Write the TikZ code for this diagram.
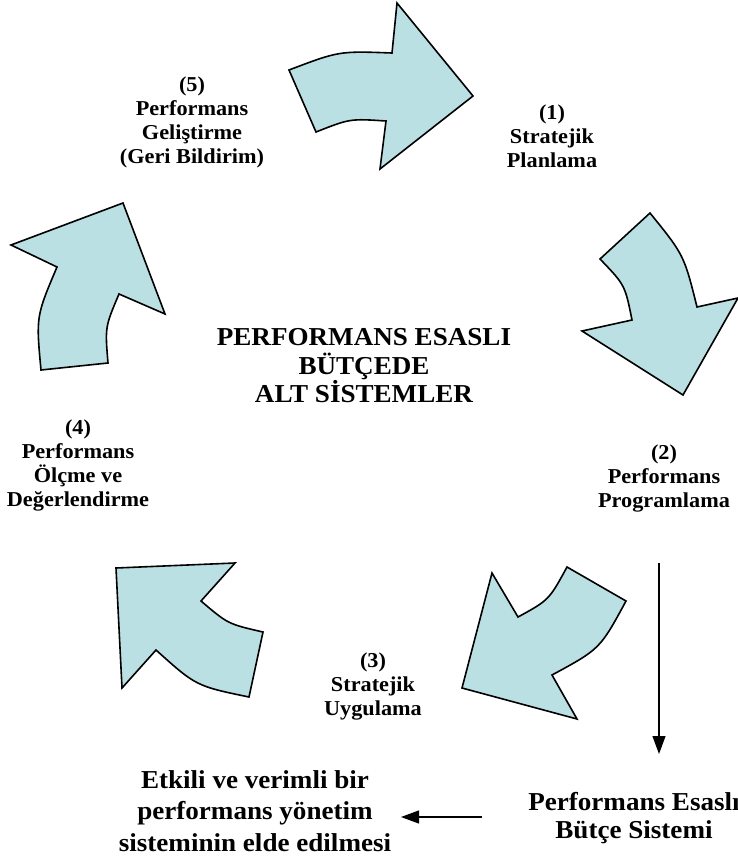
\documentclass[tikz,border=0pt]{standalone}
\usepackage{fontspec}
\setmainfont{Liberation Serif}[FakeStretch=1.05]
\usetikzlibrary{arrows.meta}
\definecolor{cycfill}{RGB}{187,224,227}
\begin{document}
\begin{tikzpicture}[x=1pt,y=-1pt,
  cyc/.style={fill=cycfill,draw=black,line width=1.6pt,line join=miter},
  lbl/.style={align=center,inner sep=0pt,font=\bfseries\fontsize{21.2}{24}\selectfont},
  big/.style={align=center,inner sep=0pt,font=\bfseries\fontsize{25.8}{28.5}\selectfont},
  conn/.style={line width=1.2pt,-{Triangle[length=18pt,width=13pt]}}]
\useasboundingbox (0,0) rectangle (738,862);

% curved block arrows of the cycle
\draw[cyc] (289,70) .. controls (339,51) .. (392,53) -- (397,3) -- (473,96)
  -- (380,169) -- (386,121) .. controls (350,118.6) .. (316,132) -- cycle;
\draw[cyc] (650,213) .. controls (684,255) .. (697,307) -- (738,298) -- (683,395)
  -- (582,331) -- (632,320) .. controls (625,285) .. (600,259) -- cycle;
\draw[cyc] (567,567) -- (626,601) .. controls (600,649) .. (552,675) -- (577,719)
  -- (462,688) -- (492,573) -- (518,617) .. controls (549,600) .. (567,567) -- cycle;
\draw[cyc] (116,568) -- (235,563) -- (201,601) .. controls (228,624) .. (263,632)
  -- (249,697) .. controls (196,686) .. (156,650) -- (122,688) -- cycle;
\draw[cyc] (11,245) -- (123,203) -- (165,314) -- (119,294) .. controls (105,327) .. (108,363)
  -- (41,370) .. controls (36,316.5) .. (57,267) -- cycle;

% stage labels
\node[lbl] (s1) at (552,136) {(1)\\Stratejik\\Planlama};
\node[lbl] (s2) at (664,478) {(2)\\Performans\\Programlama};
\node[lbl] (s3) at (373,686) {(3)\\Stratejik\\Uygulama};
\node[lbl] (s4) at (78,465) {(4)\\Performans\\Ölçme ve\\Değerlendirme};
\node[lbl] (s5) at (192,122) {(5)\\Performans\\Geliştirme\\(Geri Bildirim)};

% title and outcome texts
\node[big] (title) at (364,366) {PERFORMANS ESASLI\\BÜTÇEDE\\ALT SİSTEMLER};
\node[big] (pebs) at (634,818) {Performans Esaslı\\Bütçe Sistemi};
\node[big,font=\bfseries\fontsize{25.8}{31.5}\selectfont] (goal) at (255,811)
  {Etkili ve verimli bir\\performans yönetim\\sisteminin elde edilmesi};

% flow connectors
\coordinate (vtop) at (659,563);
\coordinate (vbot) at (659,754);
\coordinate (htail) at (482,817);
\coordinate (hhead) at (401,817);
\draw[conn] (vtop) -- (vbot);
\draw[conn] (htail) -- (hhead);
\end{tikzpicture}
\end{document}
